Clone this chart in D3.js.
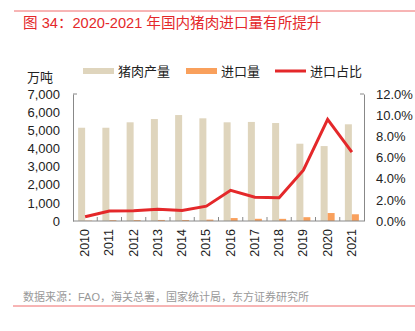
<!DOCTYPE html>
<html>
<head>
<meta charset="utf-8">
<script src="https://cdn.jsdelivr.net/npm/d3@7"></script>
<style>
  body { margin: 0; background: #fff; }
  text { font-family: "Liberation Sans", "Noto Sans CJK SC", sans-serif; }
</style>
</head>
<body>
<svg class="chart-svg" width="415" height="331"></svg>
<script>
const years = ['2010', '2011', '2012', '2013', '2014', '2015', '2016', '2017', '2018', '2019', '2020', '2021']
const production = [5140, 5140, 5440, 5620, 5840, 5660, 5440, 5460, 5400, 4260, 4130, 5330]
const imports = [20, 47, 52, 58, 56, 78, 162, 122, 119, 210, 439, 371]
const importShare = [0.4, 0.95, 0.97, 1.1, 1.0, 1.4, 2.9, 2.25, 2.2, 4.8, 9.6, 6.5]
const leftTicks = [0, 1000, 2000, 3000, 4000, 5000, 6000, 7000]
const rightTicks = [0, 2, 4, 6, 8, 10, 12]

const svg = d3.select('.chart-svg')
const red = '#e4282a'

// header and footer
svg.append('line').attr('x1', 14).attr('x2', 415).attr('y1', 11).attr('y2', 11)
  .attr('stroke', '#ef6b6b').attr('stroke-width', 1)
svg.append('text').attr('x', 23).attr('y', 28)
  .attr('fill', red).style('font-size', '14.6px')
  .text('图 34：2020-2021 年国内猪肉进口量有所提升')
svg.append('text').attr('x', 23).attr('y', 301)
  .attr('fill', '#999').style('font-size', '11px')
  .text('数据来源：FAO，海关总署，国家统计局，东方证券研究所')
svg.append('line').attr('x1', 13).attr('x2', 415).attr('y1', 306).attr('y2', 306)
  .attr('stroke', '#ef6b6b').attr('stroke-width', 1)

// scales
const x = d3.scaleBand().domain(years).range([73, 364])
const yLeft = d3.scaleLinear().domain([0, 7000]).range([221, 94])
const yRight = d3.scaleLinear().domain([0, 12]).range([221, 94])
const barW = 7

// bars
svg.selectAll('.prod-bar').data(years).enter().append('rect')
  .attr('class', 'prod-bar')
  .attr('x', d => x(d) + x.bandwidth() / 2 - barW)
  .attr('y', (d, i) => yLeft(production[i]))
  .attr('width', barW)
  .attr('height', (d, i) => yLeft(0) - yLeft(production[i]))
  .attr('fill', '#dfd5bd')

svg.selectAll('.imp-bar').data(years).enter().append('rect')
  .attr('class', 'imp-bar')
  .attr('x', d => x(d) + x.bandwidth() / 2)
  .attr('y', (d, i) => yLeft(imports[i]))
  .attr('width', barW)
  .attr('height', (d, i) => yLeft(0) - yLeft(imports[i]))
  .attr('fill', '#f9a05c')

// axes
const leftAxis = svg.append('g')
  .attr('transform', 'translate(73,0)')
  .call(d3.axisLeft(yLeft).tickValues(leftTicks).tickSize(0).tickPadding(13)
    .tickFormat(d3.format(',')))
const rightAxis = svg.append('g')
  .attr('transform', 'translate(364,0)')
  .call(d3.axisRight(yRight).tickValues(rightTicks).tickSize(0).tickPadding(12)
    .tickFormat(d => d.toFixed(1) + '%'))
;[leftAxis, rightAxis].forEach(g => {
  g.select('.domain').attr('stroke', '#888')
  g.selectAll('text').attr('fill', '#222').style('font-size', '13px')
})
svg.append('line').attr('x1', 73).attr('x2', 77).attr('y1', 94).attr('y2', 94).attr('stroke', '#888')
svg.append('line').attr('x1', 360).attr('x2', 364).attr('y1', 94).attr('y2', 94).attr('stroke', '#888')

const xAxis = svg.append('g').attr('transform', 'translate(0,221)')
xAxis.append('line').attr('x1', 73).attr('x2', 364).attr('stroke', '#888')
xAxis.selectAll('.xtick').data(years.slice(1)).enter().append('line')
  .attr('x1', d => x(d)).attr('x2', d => x(d))
  .attr('y1', 0).attr('y2', -4).attr('stroke', '#888')
xAxis.selectAll('.xlabel').data(years).enter().append('text')
  .attr('transform', d => `translate(${x(d) + x.bandwidth() / 2 + 4},8) rotate(-90)`)
  .attr('text-anchor', 'end')
  .attr('fill', '#222')
  .style('font-size', '12.5px')
  .text(d => d)

// line
const line = d3.line()
  .x((d, i) => x(years[i]) + x.bandwidth() / 2)
  .y(d => yRight(d))
svg.append('path').datum(importShare)
  .attr('d', line)
  .attr('fill', 'none')
  .attr('stroke', red)
  .attr('stroke-width', 3)

// legend
svg.append('text').attr('x', 27).attr('y', 82).attr('fill', '#222')
  .style('font-size', '13px').text('万吨')
const legend = [
  { label: '猪肉产量', x: 83, color: '#dfd5bd', h: 6 },
  { label: '进口量', x: 186, color: '#f9a05c', h: 6 },
  { label: '进口占比', x: 275, color: red, h: 3 }
]
legend.forEach(l => {
  svg.append('rect').attr('x', l.x).attr('y', 71 - l.h / 2).attr('width', 31).attr('height', l.h)
    .attr('fill', l.color)
  svg.append('text').attr('x', l.x + 35).attr('y', 75.5).attr('fill', '#222')
    .style('font-size', '13px').text(l.label)
})
</script>
</body>
</html>
